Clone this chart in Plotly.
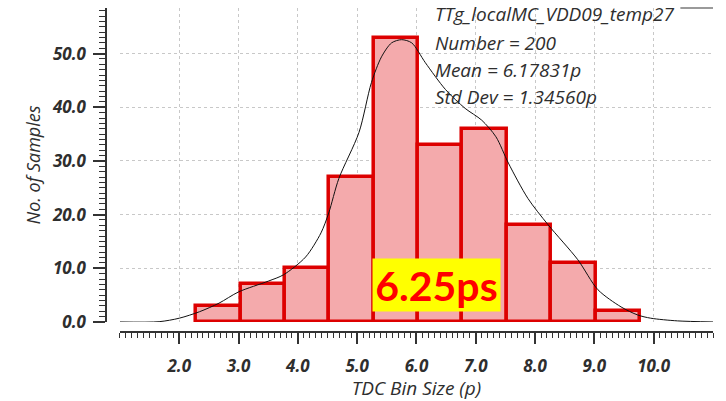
import plotly.graph_objects as go

# ---- data ----
bin_edges = [2.286, 3.034, 3.78, 4.53, 5.28, 6.03, 6.77, 7.52, 8.27, 9.02, 9.76]
counts = [3, 7, 10, 27, 53, 33, 36, 18, 11, 2]

fit_x = [1.0, 1.66, 2.0, 2.34, 2.67, 3.0, 3.5, 3.76, 4.13, 4.39, 4.52, 4.69, 5.03,
         5.24, 5.41, 5.58, 5.75, 5.92, 6.15, 6.49, 6.82, 7.1, 7.34, 7.55, 7.88,
         8.22, 8.72, 9.06, 9.45, 9.73, 9.95, 10.4, 11.0]
fit_y = [0.0, 0.05, 0.7, 1.9, 3.5, 5.6, 7.6, 8.8, 12.1, 16.6, 20.3, 26.7, 35.3,
         44.6, 49.4, 52.0, 52.6, 52.0, 48.3, 43.3, 39.8, 37.6, 34.5, 29.6, 23.0,
         18.1, 11.6, 6.0, 2.8, 1.3, 0.7, 0.2, 0.0]

x_ticks = [2, 3, 4, 5, 6, 7, 8, 9, 10]
x_tick_labels = ["2.0", "3.0", "4.0", "5.0", "6.0", "7.0", "8.0", "9.0", "10.0"]
y_ticks = [0, 10, 20, 30, 40, 50]
y_tick_labels = ["0.0", "10.0", "20.0", "30.0", "40.0", "50.0"]

stats_lines = ["TTg_localMC_VDD09_temp27", "Number = 200",
               "Mean = 6.17831p", "Std Dev = 1.34560p"]
callout_text = "6.25ps"
x_title = "TDC Bin Size (p)"
y_title = "No. of Samples"

# ---- derived ----
centers = [(a + b) / 2 for a, b in zip(bin_edges[:-1], bin_edges[1:])]
widths = [b - a for a, b in zip(bin_edges[:-1], bin_edges[1:])]

TXT = "#2e2e2e"
fig = go.Figure()
fig.add_trace(go.Bar(
    x=centers, y=counts, width=widths,
    marker=dict(color="#f4aaac", line=dict(color="#dd0000", width=3.5)),
    showlegend=False, hoverinfo="skip",
))
fig.add_trace(go.Scatter(
    x=fit_x, y=fit_y, mode="lines",
    line=dict(color="#111111", width=1, shape="spline", smoothing=0.8),
    showlegend=False, hoverinfo="skip",
))

tick_font = dict(family="Open Sans", size=17, color=TXT, style="italic", weight="bold")

fig.update_layout(
    width=726, height=401,
    margin=dict(l=106, r=13, t=8, b=69, autoexpand=False),
    paper_bgcolor="white", plot_bgcolor="white",
    bargap=0,
    xaxis=dict(
        domain=[0.023, 1], range=[1.0, 11.0], anchor="free", position=0,
        tickmode="array", tickvals=x_ticks, ticktext=x_tick_labels,
        ticks="outside", ticklen=11, tickwidth=1.5, tickcolor="#333",
        minor=dict(tickmode="linear", tick0=0, dtick=0.1, ticks="outside",
                   ticklen=5, tickwidth=1, tickcolor="#333", showgrid=False),
        showline=True, linecolor="#333", linewidth=1.5,
        showgrid=True, gridcolor="#c8c8c8", griddash="dot", gridwidth=1,
        zeroline=False, tickfont=tick_font, ticklabelstandoff=8,
        title=dict(text=x_title, standoff=3,
                   font=dict(family="Open Sans", size=19, color=TXT, style="italic")),
        automargin=False,
    ),
    yaxis=dict(
        domain=[0.031, 1], range=[0, 58.5], anchor="free", position=0,
        tickmode="array", tickvals=y_ticks, ticktext=y_tick_labels,
        ticks="outside", ticklen=12, tickwidth=1.5, tickcolor="#333",
        minor=dict(tickmode="linear", tick0=0, dtick=1, ticks="outside",
                   ticklen=6, tickwidth=1, tickcolor="#333", showgrid=False),
        showline=True, linecolor="#333", linewidth=1.5,
        showgrid=True, gridcolor="#c8c8c8", griddash="dot", gridwidth=1,
        zeroline=False, tickfont=tick_font, ticklabelstandoff=4,
        title=dict(text=y_title, standoff=6,
                   font=dict(family="Open Sans", size=18, color=TXT, style="italic")),
        automargin=False,
    ),
)

# short grey frame fragment at the top right
fig.add_shape(type="line", xref="x", yref="paper", x0=10.45, x1=11.0, y0=1, y1=1,
              line=dict(color="#9a9a9a", width=2))

# stats text block (top right)
stat_y = [57.3, 52.05, 47.0, 42.0]
for txt, yy in zip(stats_lines, stat_y):
    fig.add_annotation(x=6.28, y=yy, xref="x", yref="y", text=txt, showarrow=False,
                       xanchor="left", yanchor="middle",
                       font=dict(family="Open Sans", size=19, color=TXT, style="italic"))

# yellow callout
fig.add_annotation(x=6.34, y=6.9, xref="x", yref="y", text=callout_text, showarrow=False,
                   xanchor="center", yanchor="middle", width=127, height=52,
                   bgcolor="#ffff00", borderpad=0,
                   font=dict(family="Lato", size=41, color="#ff0000", weight="bold"))

fig.write_html("out.html", config={"displayModeBar": False},
               post_script="document.body.style.margin='0';")
